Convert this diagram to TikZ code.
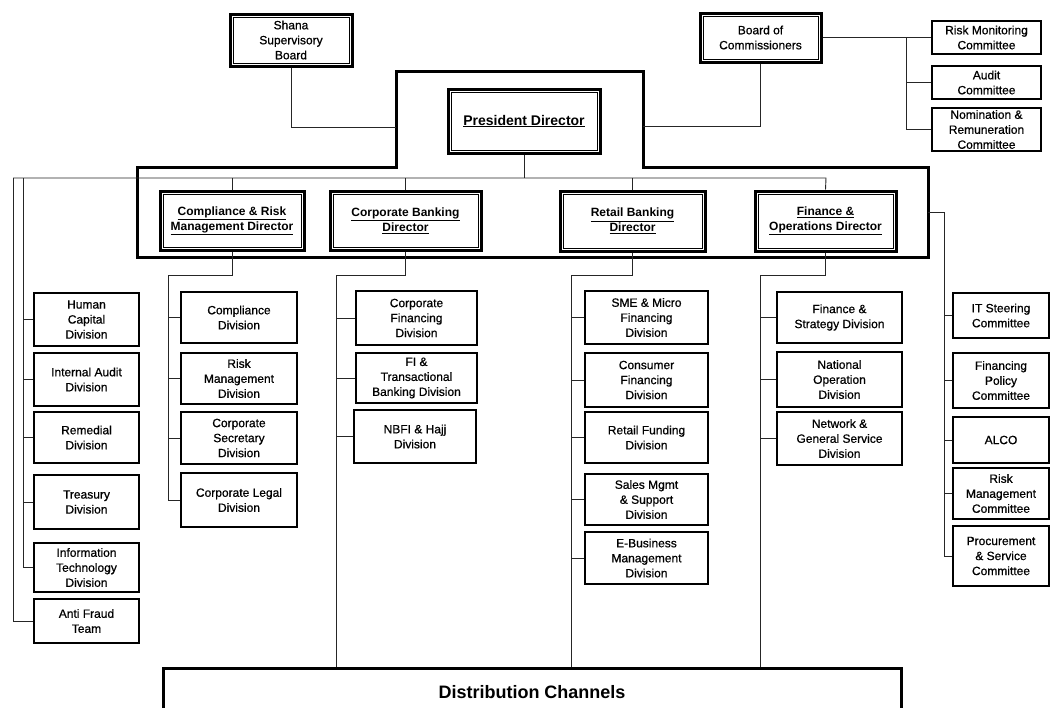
\documentclass[tikz,border=0pt]{standalone}
\usepackage{fontspec}
\setmainfont{Liberation Sans}
\newfontfamily\heavyfont{Liberation Sans}[FakeBold=0.7]
\newcommand\bx[7][box]{\node[#1, minimum width={#5-#3}, minimum height={#6-#4}] (#2) at ({(#3+#5)/2},{(#4+#6)/2}) {#7};}
\begin{document}
\begin{tikzpicture}[x=1pt,y=-1pt,
  box/.style={draw, line width=2.6pt, align=center, inner sep=0pt, font=\heavyfont\fontsize{12}{15}\selectfont},
  dbox/.style={box, line width=3pt},
  dir/.style={dbox, font=\bfseries\fontsize{12}{15}\selectfont},
  presbox/.style={dbox, font=\bfseries\fontsize{14}{17}\selectfont},
  thinbox/.style={box, line width=1.4pt},
  distbox/.style={box, line width=3pt, font=\bfseries\fontsize{18}{22}\selectfont},
  link/.style={line width=0.9pt, draw=black!85},
  frameline/.style={line width=3pt, line join=miter},
  innerline/.style={line width=0.8pt}]
\useasboundingbox (0,0) rectangle (1051,707);
\fill[white] (0,0) rectangle (1051,707);

% top level
\bx[dbox]{shana}{230}{14}{352}{66}{Shana\\Supervisory\\Board}
\bx[dbox]{board}{700}{13}{821}{62}{Board of\\Commissioners}
\bx{rmc}{932}{21}{1041}{54}{Risk Monitoring\\Committee}
\bx{audc}{932}{66}{1041}{99}{Audit\\Committee}
\bx{nrc}{932}{108}{1041}{151}{Nomination \&\\Remuneration\\Committee}
\bx[presbox]{pres}{448}{89}{600}{153}{\underline{President Director}}

% directors frame
\draw[frameline] (396,71) -- (643,71) -- (643,167) -- (928,167) -- (928,257) -- (137,257) -- (137,167) -- (396,167) -- cycle;

% directors
\bx[dir]{d1}{160}{191}{304}{250}{\underline{Compliance \& Risk}\\\underline{Management Director}}
\bx[dir]{d2}{330}{191}{481}{250}{\underline{Corporate Banking}\\\underline{Director}}
\bx[dir]{d3}{560}{191}{705}{251}{\underline{Retail Banking}\\\underline{Director}}
\bx[dir]{d4}{755}{191}{896}{251}{\underline{Finance \&}\\\underline{Operations Director}}

\foreach \n in {shana,board,pres,d1,d2,d3,d4}
  \draw[innerline] ([xshift=4.5pt,yshift=-4.5pt]\n.north west) rectangle ([xshift=-4.5pt,yshift=4.5pt]\n.south east);

% left column
\bx{hc}{34}{293}{139}{346}{Human\\Capital\\Division}
\bx{ia}{34}{353}{139}{406}{Internal Audit\\Division}
\bx{rem}{34}{412}{139}{463}{Remedial\\Division}
\bx{tre}{34}{475}{139}{529}{Treasury\\Division}
\bx{itd}{34}{543}{139}{592}{Information\\Technology\\Division}
\bx[thinbox]{af}{34}{599}{139}{643}{Anti Fraud\\Team}

% compliance column
\bx{cd}{181}{292}{297}{343}{Compliance\\Division}
\bx{rmd}{181}{353}{297}{404}{Risk\\Management\\Division}
\bx{csd}{181}{412}{297}{464}{Corporate\\Secretary\\Division}
\bx{cld}{181}{473}{297}{527}{Corporate Legal\\Division}

% corporate banking column
\bx{cfd}{356}{291}{477}{345}{Corporate\\Financing\\Division}
\bx{fitb}{356}{353}{477}{403}{FI \&\\Transactional\\Banking Division}
\bx{nbfi}{354}{410}{476}{463}{NBFI \& Hajj\\Division}

% retail banking column
\bx{sme}{585}{291}{708}{344}{SME \& Micro\\Financing\\Division}
\bx{cons}{585}{353}{708}{407}{Consumer\\Financing\\Division}
\bx{rfd}{585}{412}{708}{463}{Retail Funding\\Division}
\bx{sales}{585}{474}{708}{525}{Sales Mgmt\\\& Support\\Division}
\bx{ebiz}{585}{532}{708}{584}{E-Business\\Management\\Division}

% finance column
\bx{fsd}{777}{292}{902}{343}{Finance \&\\Strategy Division}
\bx{nod}{777}{352}{902}{407}{National\\Operation\\Division}
\bx{ngs}{777}{412}{902}{465}{Network \&\\General Service\\Division}

% right committees
\bx{its}{953}{293}{1049}{338}{IT Steering\\Committee}
\bx{fpc}{953}{353}{1049}{408}{Financing\\Policy\\Committee}
\bx{alco}{953}{417}{1049}{463}{ALCO}
\bx{rmcom}{953}{468}{1049}{519}{Risk\\Management\\Committee}
\bx{psc}{953}{526}{1049}{586}{Procurement\\\& Service\\Committee}

% distribution
\bx[distbox]{dist}{163}{668}{901}{716}{Distribution Channels}

% coordinates
\coordinate (fl) at (396,127);
\coordinate (fr) at (643,126);
\coordinate (bj) at (906,37.5);
\coordinate (hl) at (13,178);
\coordinate (hl2) at (23,178);
\coordinate (hr) at (826,178);
\coordinate (c1) at (168,275);
\coordinate (c2) at (336,275);
\coordinate (c3) at (571,275);
\coordinate (c4) at (760,275);
\coordinate (fre) at (928,212);
\coordinate (c5) at (944,212);

% connectors
\draw[link] (shana.south) |- (fl);
\draw[link] (board.south) |- (fr);
\draw[link] (board.east) -- (rmc.west);
\draw[link] (bj) |- (audc.west);
\draw[link] (bj) |- (nrc.west);
\draw[link] (pres.south) -- (pres.south |- hl);
\draw[link] (hl) -- (hr) -- (d4.north);
\foreach \n in {d1,d2,d3} \draw[link] (\n.north) -- (\n.north |- hl);
\draw[link] (hl) |- (af.west);
\draw[link] (hl2) |- (itd.west);
\foreach \n in {hc,ia,rem,tre} \draw[link] (\n.west -| hl2) -- (\n.west);
\draw[link] (d1.south) |- (c1) |- (cld.west);
\foreach \n in {cd,rmd,csd} \draw[link] (\n.west -| c1) -- (\n.west);
\draw[link] (d2.south) |- (c2) -- (c2 |- dist.north);
\foreach \n in {cfd,fitb,nbfi} \draw[link] (\n.west -| c2) -- (\n.west);
\draw[link] (d3.south) |- (c3) -- (c3 |- dist.north);
\foreach \n in {sme,cons,rfd,sales,ebiz} \draw[link] (\n.west -| c3) -- (\n.west);
\draw[link] (d4.south) |- (c4) -- (c4 |- dist.north);
\foreach \n in {fsd,nod,ngs} \draw[link] (\n.west -| c4) -- (\n.west);
\draw[link] (fre) -- (c5) |- (psc.west);
\foreach \n in {its,fpc,alco,rmcom} \draw[link] (\n.west -| c5) -- (\n.west);
\end{tikzpicture}
\end{document}
